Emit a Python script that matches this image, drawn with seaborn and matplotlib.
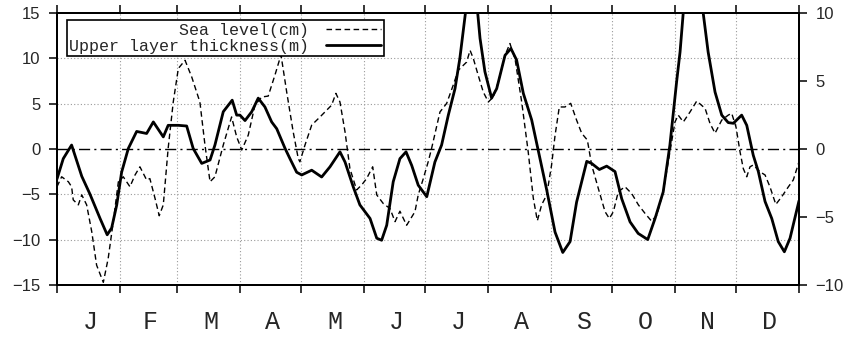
import matplotlib
matplotlib.use("Agg")
import matplotlib.pyplot as plt
import seaborn as sns
import pandas as pd

# sea level (cm), left axis -- day of year / value
sl_day = [0, 2.3, 5.6, 7.2, 8.0, 10.5, 12.2, 14.6, 17.1, 19.5, 22.8, 25.2, 27.7, 30.2,
          32.6, 35.9, 38.4, 40.8, 44.1, 45.7, 48.2, 50.3, 52.3, 54.7, 57.2, 59.7, 63.0,
          66.3, 70.3, 72.8, 75.3, 77.7, 81.8, 85.9, 88.4, 90.9, 94.1, 97.4, 100.7, 103.9,
          107.2, 110.2, 113.0, 116.2, 118.7, 119.5, 122.0, 125.3, 129.4, 132.7, 135.1,
          137.2, 139.2, 141.7, 144.1, 147.4, 149.9, 152.3, 155.3, 157.3, 160.5, 163.8,
          166.3, 168.7, 172.0, 176.1, 177.7, 180.2, 182.6, 184.3, 188.4, 191.7, 194.9,
          197.4, 199.9, 201.5, 203.2, 204.8, 207.2, 209.7, 212.2, 214.6, 217.1, 220.4,
          222.8, 225.3, 228.6, 231.8, 234.3, 236.3, 238.4, 240.9, 243.3, 245.0, 247.1,
          249.9, 252.7, 255.6, 258.1, 260.9, 263.0, 266.3, 269.6, 271.7, 273.7, 276.1,
          279.4, 282.7, 286.0, 289.3, 292.5, 295.0, 298.2, 300.7, 304.0, 305.6, 308.1,
          311.4, 314.7, 318.8, 321.2, 323.7, 327.0, 330.2, 331.9, 334.0, 336.0, 337.6,
          339.3, 340.9, 342.5, 345.8, 348.3, 350.7, 353.6, 356.5, 359.8, 362.2, 365.0]
sl_val = [-4.15, -3.05, -3.6, -4.15, -5.6, -6.15, -5.05, -6.15, -9.1, -12.8, -14.7, -12.05,
          -8.0, -3.6, -3.05, -4.15, -2.85, -1.95, -3.4, -3.25, -5.4, -7.35, -6.15, 0.1,
          5.2, 8.9, 9.8, 7.95, 5.2, 0.45, -3.6, -3.05, 0.45, 3.55, 1.35, -0.1, 1.55, 4.85,
          5.75, 5.85, 8.15, 10.4, 6.3, 1.9, -1.05, -1.4, 0.45, 2.65, 3.55, 4.3, 4.85, 6.15,
          5.2, 1.9, -2.15, -4.5, -3.95, -3.25, -1.95, -5.05, -6.0, -6.55, -8.0, -6.85,
          -8.4, -6.9, -5.05, -3.25, -1.4, 0.1, 4.1, 5.05, 7.05, 8.7, 9.25, 9.6, 10.9, 10.0,
          8.15, 6.3, 5.2, 5.75, 7.4, 10.35, 11.65, 10.0, 5.2, -0.3, -5.4, -7.9, -6.15,
          -5.05, -1.75, 1.5, 4.65, 4.65, 5.05, 3.2, 1.75, 1.0, -1.75, -4.35, -6.9, -7.65,
          -6.9, -4.7, -4.15, -4.9, -6.15, -7.1, -7.95, -7.3, -4.7, -1.4, 3.0, 3.75, 3.0,
          4.1, 5.3, 4.5, 2.85, 1.75, 3.2, 3.75, 3.95, 2.45, -0.3, -2.15, -3.05, -1.95,
          -1.75, -2.5, -2.85, -4.15, -6.1, -5.25, -4.15, -3.4, -1.4]

# upper layer thickness (m), right axis
ul_day = [0, 3.1, 7.2, 12.2, 16.2, 21.2, 24.7, 26.9, 29.4, 31.8, 35.1, 39.2, 44.1, 47.4,
          52.3, 54.7, 59.7, 63.8, 67.0, 71.2, 75.3, 77.7, 81.8, 86.2, 88.4, 90.0, 92.5,
          95.8, 99.0, 102.3, 105.6, 108.1, 112.2, 114.6, 117.9, 120.4, 125.3, 130.2,
          134.3, 139.2, 141.7, 145.8, 149.0, 154.0, 157.3, 159.7, 162.2, 165.4, 168.7,
          171.7, 174.5, 177.7, 181.9, 185.9, 189.2, 192.5, 195.8, 198.2, 201.0, 204.0,
          206.9, 208.1, 210.5, 213.8, 216.3, 220.4, 223.3, 226.1, 229.4, 233.5, 237.6,
          240.9, 245.0, 248.8, 252.4, 255.6, 260.6, 263.0, 266.8, 270.4, 274.5, 277.8,
          281.9, 285.9, 290.6, 294.2, 298.2, 301.5, 304.8, 306.5, 308.1, 312.8, 317.8,
          320.3, 323.7, 327.0, 330.2, 332.7, 336.8, 339.3, 342.5, 345.0, 348.3, 351.6,
          354.8, 357.8, 360.6, 365.0]
ul_val = [-2.2, -0.7, 0.3, -2.0, -3.3, -5.1, -6.3, -5.8, -4.1, -1.7, 0.05, 1.3, 1.15, 2.0,
          0.9, 1.75, 1.75, 1.7, 0.05, -1.05, -0.8, 0.3, 2.75, 3.6, 2.5, 2.5, 2.1, 2.75,
          3.75, 3.1, 2.0, 1.5, 0.05, -0.7, -1.7, -1.9, -1.55, -2.05, -1.3, -0.2, -0.95,
          -2.8, -4.1, -5.1, -6.55, -6.7, -5.6, -2.4, -0.7, -0.2, -1.2, -2.65, -3.5, -0.95,
          0.3, 2.5, 4.45, 6.7, 10.1, 12.5, 10.1, 8.15, 5.7, 3.75, 4.45, 6.9, 7.4, 6.55,
          4.1, 2.15, -0.7, -3.0, -6.1, -7.6, -6.8, -3.9, -0.9, -1.05, -1.5, -1.25, -1.65,
          -3.65, -5.35, -6.2, -6.65, -5.1, -3.15, 0.3, 4.95, 7.15, 10.1, 13.5, 10.1, 7.15,
          4.2, 2.5, 1.95, 1.9, 2.5, 1.75, -0.45, -1.65, -3.85, -5.1, -6.8, -7.55, -6.55,
          -3.8]

month_edges = [0, 31, 59, 90, 120, 151, 181, 212, 243, 273, 304, 334, 365]
month_labels = ["J", "F", "M", "A", "M", "J", "J", "A", "S", "O", "N", "D"]
left_ticks = [-15, -10, -5, 0, 5, 10, 15]
right_ticks = [-10, -5, 0, 5, 10]

sns.set_style("white")
plt.rcParams["font.family"] = ["Liberation Sans", "DejaVu Sans"]

sl = pd.DataFrame({"day": sl_day, "val": sl_val})
ul = pd.DataFrame({"day": ul_day, "val": ul_val})

fig = plt.figure(figsize=(8.49, 3.37), dpi=100)
ax = fig.add_axes([0.0671, 0.154, 0.874, 0.807])
ax2 = ax.twinx()

sns.lineplot(data=sl, x="day", y="val", ax=ax, color="black", lw=1.0,
             linestyle=(0, (4, 2.5)), estimator=None, sort=False,
             label="Sea level(cm)")
sns.lineplot(data=ul, x="day", y="val", ax=ax2, color="black", lw=2.0,
             estimator=None, sort=False, label="Upper layer thickness(m)")

ax.set_xlim(0, 365)
ax.set_ylim(-15, 15)
ax2.set_ylim(-10, 10)
ax.set_yticks(left_ticks)
ax2.set_yticks(right_ticks)
ax.set_xlabel("")
ax.set_ylabel("")
ax2.set_ylabel("")

# grid
for d in month_edges[1:-1]:
    ax.axvline(d, color="#9a9a9a", lw=0.8, linestyle=(0, (1, 2)), zorder=0)
for v in [-10, -5, 5, 10]:
    ax.axhline(v, color="#9a9a9a", lw=0.8, linestyle=(0, (1, 2)), zorder=0)
ax.axhline(0, color="black", lw=1.0, linestyle=(0, (8, 3, 1.5, 3)), zorder=1)

# month boundary ticks (top and bottom), month names in between
ax.set_xticks(month_edges)
ax.set_xticklabels([""] * len(month_edges))
mids = [(a + b) / 2 + 1 for a, b in zip(month_edges[:-1], month_edges[1:])]
ax.set_xticks(mids, minor=True)
ax.set_xticklabels(month_labels, minor=True, fontsize=18, family="Liberation Mono")
ax.tick_params(axis="x", which="major", direction="out", length=6, width=1.3,
               top=True, bottom=True)
ax.tick_params(axis="x", which="minor", length=0, pad=18)
ax.tick_params(axis="y", direction="out", length=6, width=1.3, labelsize=12, pad=6)
ax2.tick_params(axis="y", direction="out", length=6, width=1.3, labelsize=12, pad=6)

for a in (ax, ax2):
    for s in a.spines.values():
        s.set_color("black")
        s.set_linewidth(1.4)

# legend
ax.get_legend().remove()
h1, l1 = ax.get_legend_handles_labels()
h2, l2 = ax2.get_legend_handles_labels()
leg = ax2.legend(h1 + h2, l1 + l2, loc="upper left", bbox_to_anchor=(0.0135, 0.974),
                 borderaxespad=0, markerfirst=False, handlelength=3.3,
                 handletextpad=1.0, borderpad=0.15, labelspacing=0.05,
                 fancybox=False, framealpha=1, edgecolor="black",
                 prop={"family": "Liberation Mono", "size": 12})
leg.get_frame().set_linewidth(1.2)

fig.savefig("out.png", dpi=100)
